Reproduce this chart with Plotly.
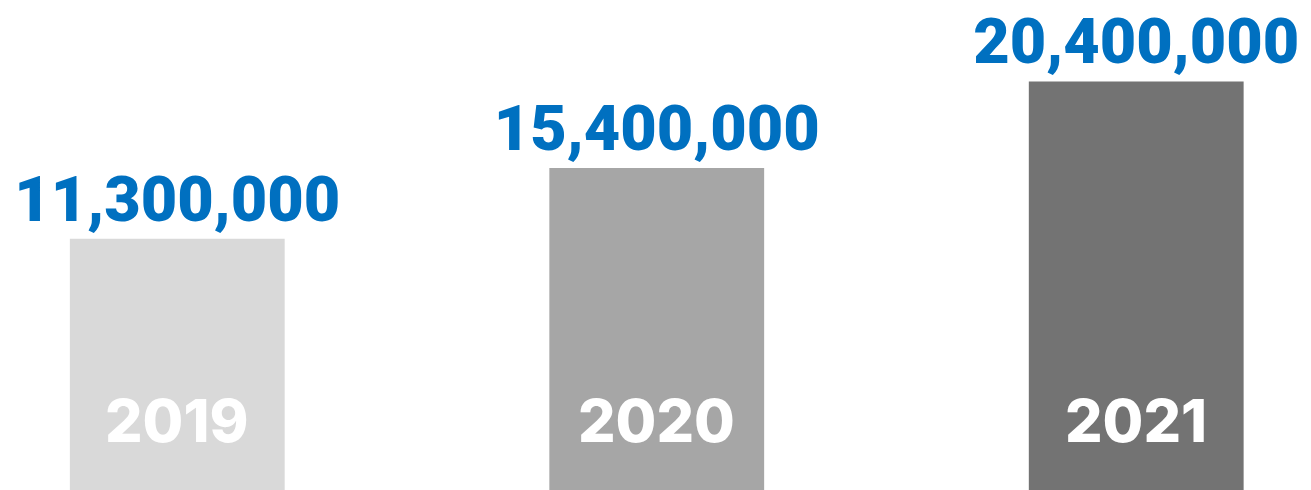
import plotly.graph_objects as go

years = ["2019", "2020", "2021"]
values = [11300000, 15400000, 20400000]
bar_colors = ["#d9d9d9", "#a6a6a6", "#737373"]

BASE = -3.23e6
LABEL_BLUE = "#0070c0"

fig = go.Figure()
fig.add_trace(go.Bar(
    x=years,
    y=[v - BASE for v in values],
    base=BASE,
    width=0.448,
    marker=dict(color=bar_colors, line=dict(width=0)),
    text=[f"{v:,}" for v in values],
    textposition="outside",
    constraintext="none",
    cliponaxis=False,
    textfont=dict(family="Roboto", size=63, color=LABEL_BLUE, weight=900),
    hoverinfo="skip",
))

for i, yr in enumerate(years):
    fig.add_annotation(
        x=i, xref="x", y=0, yref="paper",
        text=yr, showarrow=False,
        yanchor="bottom", yshift=32,
        font=dict(family="Inter", size=59, color="white", weight=800),
    )

fig.update_layout(
    width=1311, height=490,
    margin=dict(l=0, r=0, t=0, b=0),
    paper_bgcolor="white", plot_bgcolor="white",
    showlegend=False,
    xaxis=dict(type="category", range=[-0.3697, 2.3645], showticklabels=False,
               showgrid=False, zeroline=False, showline=False, ticks=""),
    yaxis=dict(range=[BASE, 25.11e6], showticklabels=False, showgrid=False,
               zeroline=False, showline=False, ticks=""),
)

fig.write_html("out.html")
